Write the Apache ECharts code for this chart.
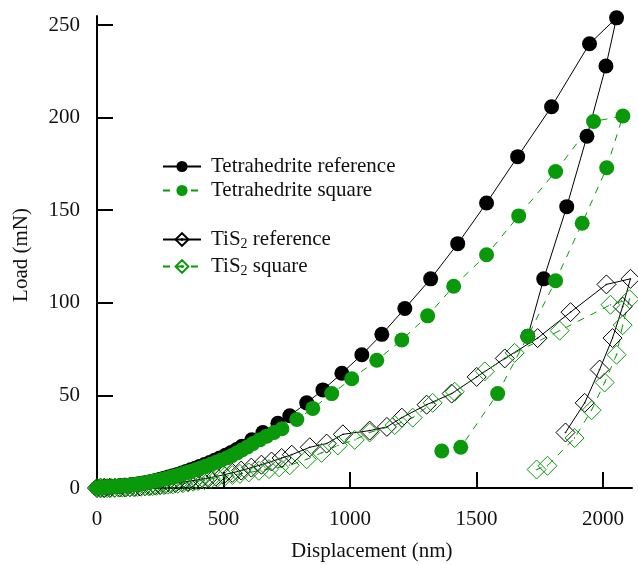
<!DOCTYPE html>
<html><head><meta charset="utf-8">
<script src="https://cdn.jsdelivr.net/npm/echarts@6/dist/echarts.min.js"></script>
<style>html,body{margin:0;padding:0;background:#fff}#c{width:638px;height:565px}</style>
</head><body><div id="c"></div><script>
// Tick labels
const xTickLabels = [0, 500, 1000, 1500, 2000];
const yTickLabels = [0, 50, 100, 150, 200, 250];
const xAxisTitle = 'Displacement (nm)';
const yAxisTitle = 'Load (mN)';
const seriesNames = ['Tetrahedrite reference', 'Tetrahedrite square', 'TiS2 reference', 'TiS2 square'];

// [displacement nm, load mN]
const tetRef = [[0,0],[8,0.1],[15,0.2],[23,0.3],[30,0.4],[40,0.5],[50,0.6],[60,0.7],[70,0.8],[82,0.9],[95,1.0],[108,1.2],[120,1.4],[132,1.6],[145,1.9],[160,2.2],[175,2.5],[190,2.9],[205,3.3],[220,3.7],[235,4.2],[250,4.7],[265,5.2],[282,5.9],[300,6.6],[318,7.3],[335,8.1],[352,8.9],[370,9.8],[388,10.7],[405,11.6],[425,12.7],[445,13.8],[465,15],[485,16.2],[508,17.7],[530,19.2],[552,20.8],[573,22.5],[612,26],[656,30],[715,35],[762,39],[829,46],[893,53],[968,62],[1047,72],[1126,83],[1217,97],[1319,113],[1426,132],[1540,154],[1663,179],[1797,206],[1947,240],[2054,254],[2012,228],[1937,190],[1857,152],[1766,113],[1703,82]];
const tetSquare = [[0,0],[6,0.1],[12,0.2],[18,0.25],[25,0.3],[32,0.4],[40,0.5],[49,0.6],[58,0.7],[68,0.8],[78,0.9],[89,1.0],[100,1.1],[111,1.25],[122,1.4],[133,1.6],[145,1.8],[157,2.0],[170,2.3],[182,2.6],[195,2.9],[208,3.2],[222,3.6],[236,4.0],[250,4.4],[265,4.9],[280,5.4],[295,5.9],[310,6.5],[326,7.1],[342,7.8],[358,8.5],[375,9.2],[392,10],[410,10.8],[430,11.8],[450,12.8],[470,13.9],[490,15],[512,16.2],[533,17.5],[553,19],[573,20.5],[595,22.2],[616,24],[643,26],[671,28],[700,30],[731,32],[790,37],[853,43],[928,51],[1007,59],[1106,69],[1205,80],[1307,93],[1410,109],[1540,126],[1667,147],[1813,171],[1963,198],[2079,201],[2015,173],[1918,143],[1813,112],[1703,82],[1584,51],[1438,22],[1363,20]];
const tis2Ref = [[0,0],[15,0],[30,0],[50,0.1],[70,0.2],[90,0.3],[110,0.4],[130,0.5],[150,0.6],[170,0.8],[190,1.0],[210,1.2],[230,1.4],[250,1.7],[270,2.0],[290,2.3],[310,2.7],[335,3.1],[360,3.6],[385,4.1],[410,4.7],[440,5.4],[470,6.2],[500,7.1],[535,8.2],[570,9.4],[610,11],[650,12.6],[690,14.3],[730,16.2],[770,18],[841,22],[908,24],[972,29],[1078,31],[1146,33],[1205,38],[1303,45],[1402,51],[1501,60],[1612,70],[1742,81],[1872,95],[2014,110],[2109,113],[2078,98],[2038,81],[1987,64],[1928,46],[1852,30]];
const tis2Square = [[0,0],[12,0],[25,0],[40,0],[55,0.1],[70,0.1],[85,0.2],[100,0.2],[115,0.3],[130,0.4],[145,0.5],[160,0.6],[175,0.7],[190,0.8],[205,0.9],[220,1.0],[235,1.2],[250,1.4],[265,1.6],[280,1.8],[300,2.0],[320,2.3],[340,2.6],[360,3.0],[380,3.4],[400,3.8],[425,4.3],[450,4.9],[475,5.5],[505,6.2],[535,7.0],[565,7.6],[600,8.4],[640,9.3],[680,10.2],[720,11.2],[762,12.3],[829,15.5],[888,19],[952,23],[1019,26],[1078,30],[1177,34],[1248,38],[1327,46],[1414,52],[1533,63],[1651,73],[1829,85],[2030,99],[2105,102],[2078,88],[2054,72],[2007,57],[1955,42],[1888,27],[1781,12],[1738,10]];

const FONT = 'Liberation Serif';
const GREEN = '#0a990a';
const diamond = 'path://M8,0 L16,8 L8,16 L0,8 Z M7.6,8 L8,7.6 L8.4,8 L8,8.4 Z';

const xMax = 2115, yMax = 255;
const xStep = xTickLabels[1] - xTickLabels[0];
const yStep = yTickLabels[1] - yTickLabels[0];

const chart = echarts.init(document.getElementById('c'), null, {renderer: 'canvas'});
const baseAxis = {
  axisLine: {show: false}, axisTick: {show: false}, axisLabel: {show: false}, splitLine: {show: false}
};
chart.setOption({
  animation: false,
  backgroundColor: '#fff',
  grid: [
    {left: 97, top: 16, width: 535, height: 472, containLabel: false},
    {left: 97, top: 25, width: 506, height: 463, containLabel: false}
  ],
  xAxis: [
    Object.assign({}, baseAxis, {type: 'value', gridIndex: 0, min: 0, max: xMax,
      axisLine: {show: true, onZero: false, lineStyle: {color: '#000', width: 2}}}),
    Object.assign({}, baseAxis, {type: 'value', gridIndex: 1, min: xTickLabels[0], max: xTickLabels[xTickLabels.length-1], interval: xStep,
      offset: 8,
      axisTick: {show: true, inside: true, length: 16, lineStyle: {color: '#000', width: 2}},
      axisLabel: {show: true, margin: 13, fontFamily: FONT, fontSize: 21, color: '#111', formatter: v => String(v)}})
  ],
  yAxis: [
    Object.assign({}, baseAxis, {type: 'value', gridIndex: 0, min: 0, max: yMax,
      axisLine: {show: true, onZero: false, lineStyle: {color: '#000', width: 2}}}),
    Object.assign({}, baseAxis, {type: 'value', gridIndex: 1, min: yTickLabels[0], max: yTickLabels[yTickLabels.length-1], interval: yStep,
      offset: 8,
      axisTick: {show: true, inside: true, length: 16, lineStyle: {color: '#000', width: 2}},
      axisLabel: {show: true, margin: 9, fontFamily: FONT, fontSize: 21, color: '#111', formatter: v => String(v)}})
  ],
  legend: [
    {data: [seriesNames[0], seriesNames[1]], orient: 'vertical', left: 162, top: 156, padding: 0, itemWidth: 38, itemHeight: 14, itemGap: 3,
      selectedMode: false, textStyle: {fontFamily: FONT, fontSize: 21, color: '#111', padding: [0,0,0,5]}},
    {data: [seriesNames[2], seriesNames[3]], orient: 'vertical', left: 162, top: 229, padding: 0, itemWidth: 38, itemHeight: 16, itemGap: 5,
      selectedMode: false,
      formatter: n => n.replace('TiS2', 'TiS{sub|2}'),
      textStyle: {fontFamily: FONT, fontSize: 21, color: '#111', padding: [0,0,0,5],
        rich: {sub: {fontFamily: FONT, fontSize: 14, color: '#111', padding: [9,0,0,0]}}}}
  ],
  graphic: [
    {type: 'text', left: 373 - 82, top: 541, style: {text: xAxisTitle, font: '21px "Liberation Serif"', fill: '#111'}},
    {type: 'text', x: 21, y: 255, rotation: Math.PI / 2, style: {text: yAxisTitle, font: '21px "Liberation Serif"', fill: '#111', align: 'center', verticalAlign: 'middle'}}
  ],
  series: [
    {name: seriesNames[2], type: 'line', data: tis2Ref, xAxisIndex: 0, yAxisIndex: 0, clip: false,
      symbol: diamond, symbolSize: 19, showAllSymbol: true,
      itemStyle: {color: 'rgba(255,255,255,0)', borderColor: '#000', borderWidth: 1},
      lineStyle: {color: '#000', width: 1}},
    {name: seriesNames[3], type: 'line', data: tis2Square, xAxisIndex: 0, yAxisIndex: 0, clip: false,
      symbol: diamond, symbolSize: 19, showAllSymbol: true,
      itemStyle: {color: 'rgba(255,255,255,0)', borderColor: GREEN, borderWidth: 1},
      lineStyle: {color: GREEN, width: 1, type: [7, 7]}},
    {name: seriesNames[0], type: 'line', data: tetRef, xAxisIndex: 0, yAxisIndex: 0, clip: false,
      symbol: 'circle', symbolSize: 15, showAllSymbol: true,
      itemStyle: {color: '#000'}, lineStyle: {color: '#000', width: 1}},
    {name: seriesNames[1], type: 'line', data: tetSquare, xAxisIndex: 0, yAxisIndex: 0, clip: false,
      symbol: 'circle', symbolSize: 15, showAllSymbol: true,
      itemStyle: {color: GREEN}, lineStyle: {color: GREEN, width: 1, type: [7, 7]}}
  ]
});
</script></body></html>
